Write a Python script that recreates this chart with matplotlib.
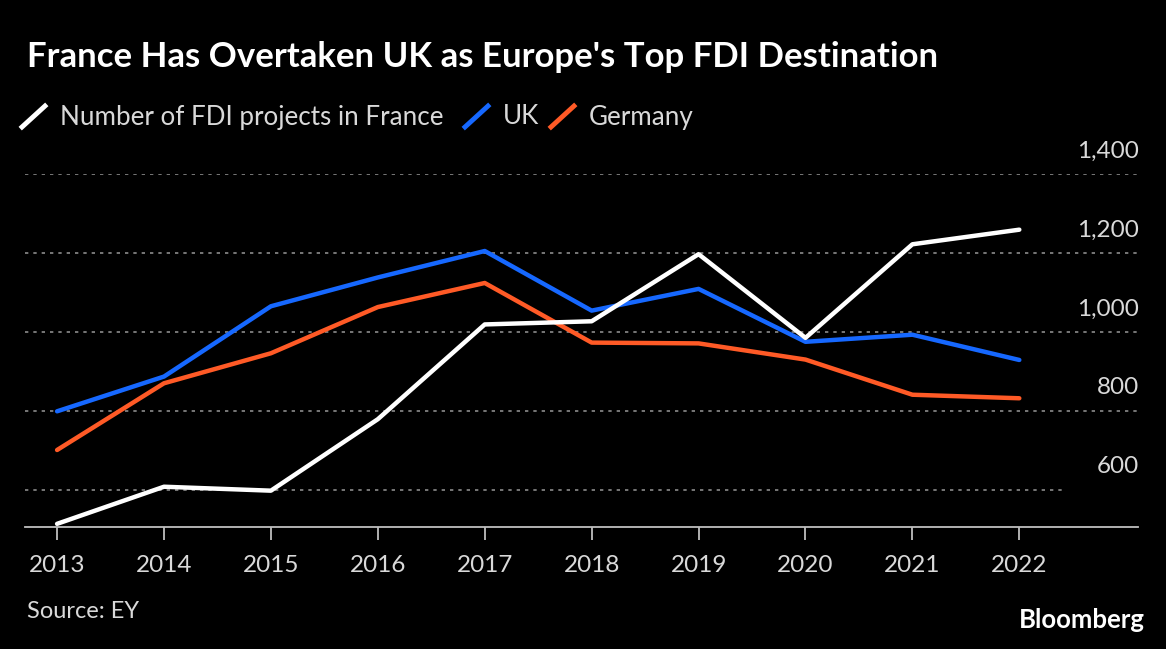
import matplotlib.pyplot as plt
from matplotlib.lines import Line2D

plt.rcParams["font.family"] = ["Lato", "DejaVu Sans"]

years = [2013, 2014, 2015, 2016, 2017, 2018, 2019, 2020, 2021, 2022]
france = [514, 608, 598, 779, 1019, 1027, 1197, 985, 1222, 1259]
uk = [799, 887, 1065, 1138, 1205, 1054, 1109, 975, 993, 929]
germany = [701, 870, 946, 1063, 1124, 973, 971, 930, 841, 832]
y_ticks = [600, 800, 1000, 1200, 1400]

bg = "#000000"
txt = "#d9d9d9"
grid_col = "#8c8c8c"
c_fr = "#ffffff"
c_uk = "#1668ff"
c_de = "#ff5a26"

fig = plt.figure(figsize=(11.66, 6.49), dpi=100, facecolor=bg)
ax = fig.add_axes([25 / 1166, 122 / 649, 1113 / 1166, 353 / 649])
ax.set_facecolor(bg)

ax.set_xlim(2012.70, 2023.11)
ax.set_ylim(506, 1400)

# グリッド（600は短め）
for v in y_ticks:
    xmax = 1.0 if v != 600 else (1066 - 25) / 1113
    ax.axhline(v, xmin=0, xmax=xmax, color=grid_col, lw=1.2,
               linestyle=(0, (2, 3)), zorder=1)
    ax.annotate(f"{v:,}", xy=(1.0, v), xycoords=ax.get_yaxis_transform(),
                xytext=(1, 9), textcoords="offset points",
                ha="right", va="bottom", color=txt, fontsize=17.5,
                annotation_clip=False)

ax.plot(years, germany, color=c_de, lw=3.2, zorder=3, solid_capstyle="round")
ax.plot(years, uk, color=c_uk, lw=3.2, zorder=4, solid_capstyle="round")
ax.plot(years, france, color=c_fr, lw=3.2, zorder=5, solid_capstyle="round")

for s in ["top", "right", "left"]:
    ax.spines[s].set_visible(False)
ax.spines["bottom"].set_color("#bfbfbf")
ax.spines["bottom"].set_linewidth(1.3)
ax.set_yticks([])
ax.set_xticks(years)
ax.set_xticklabels([str(y) for y in years])
ax.tick_params(axis="x", colors="#bfbfbf", length=9, width=1.3,
               labelcolor=txt, labelsize=17.5, pad=11)

# タイトル
fig.text(27 / 1166, 1 - 57 / 649, "France Has Overtaken UK as Europe's Top FDI Destination",
         color="white", fontsize=25, fontweight="bold", va="center", ha="left")

# 凡例
legend_items = [("Number of FDI projects in France", c_fr, 22),
                ("UK", c_uk, 465), ("Germany", c_de, 551)]
for label, col, x0 in legend_items:
    fig.add_artist(Line2D([x0 / 1166, (x0 + 23) / 1166],
                          [1 - 127 / 649, 1 - 106 / 649],
                          color=col, lw=3.5, transform=fig.transFigure))
    fig.text((x0 + 38) / 1166, 1 - 117 / 649, label, color=txt,
             fontsize=18.7, va="center", ha="left")

fig.text(27 / 1166, 1 - 611 / 649, "Source: EY", color=txt, fontsize=17,
         va="center", ha="left")
fig.text(1145 / 1166, 1 - 620 / 649, "Bloomberg", color="white", fontsize=18.5,
         fontweight="bold", va="center", ha="right")

fig.savefig("out.png", dpi=100, facecolor=bg)
